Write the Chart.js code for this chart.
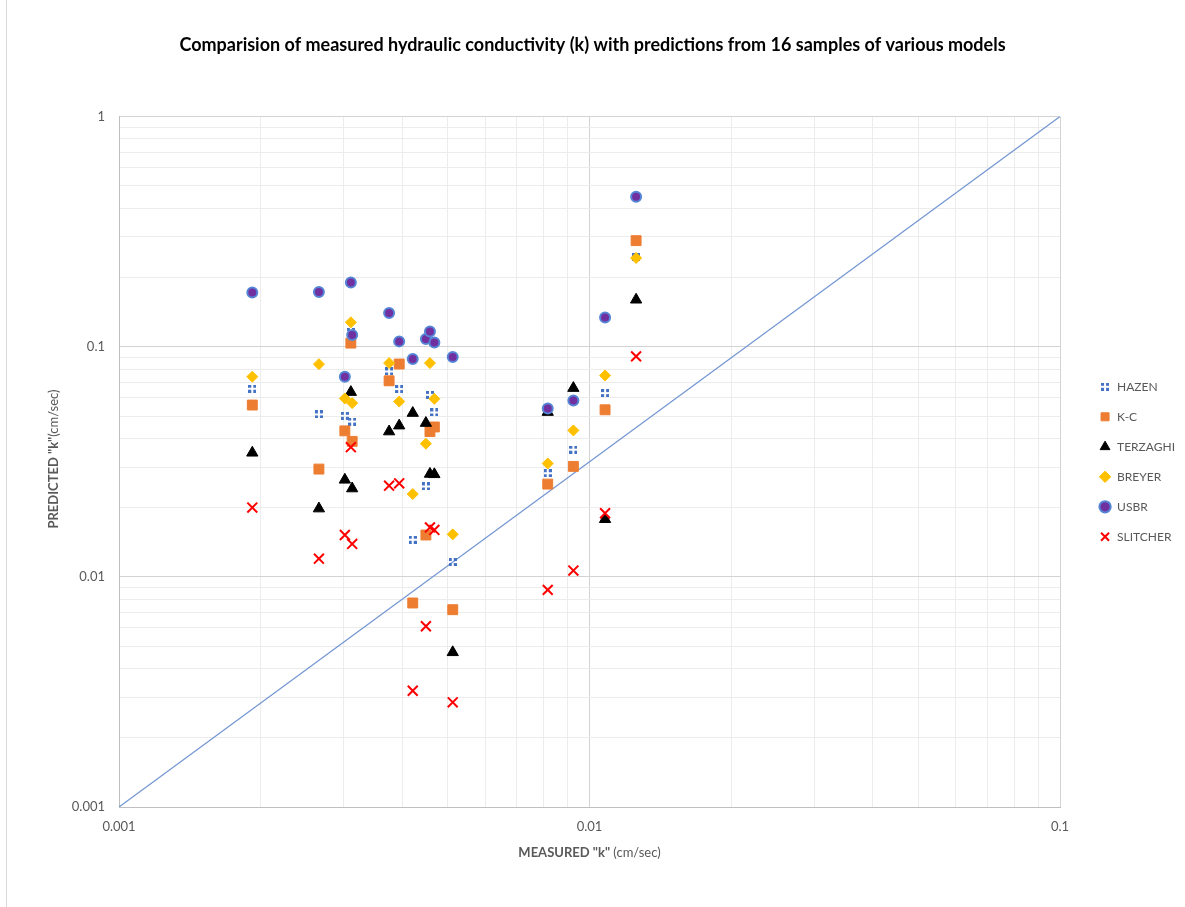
<!DOCTYPE html>
<html>
<head>
<meta charset="utf-8">
<title>Measured vs predicted hydraulic conductivity</title>
<script src="https://cdn.jsdelivr.net/npm/chart.js@4.4.1/dist/chart.umd.min.js"></script>
<style>
  html, body { margin: 0; padding: 0; background: #fff; }
  #wrap { width: 1185px; height: 907px; }
</style>
</head>
<body>
<div id="wrap"><canvas id="chart" width="1185" height="907"></canvas></div>
<script>
// measured k of the 16 samples (cm/sec)
const measuredK = [0.00192, 0.00266, 0.00302, 0.00311, 0.00313, 0.00375, 0.00394, 0.00421,
                   0.00449, 0.00458, 0.00468, 0.00512, 0.00815, 0.00924, 0.01079, 0.01256];

// predicted k for each model, same sample order as measuredK
const hazen    = [0.0657, 0.0508, 0.0501, 0.116, 0.0473, 0.0781, 0.0655, 0.0145, 0.0247, 0.0618, 0.0518, 0.0116, 0.0282, 0.0357, 0.0629, 0.245];
const kc       = [0.0558, 0.0294, 0.0431, 0.1037, 0.0388, 0.0711, 0.0841, 0.0077, 0.0152, 0.0428, 0.0448, 0.0072, 0.0253, 0.0302, 0.0532, 0.289];
const terzaghi = [0.0346, 0.0198, 0.0264, 0.0635, 0.0242, 0.0428, 0.0454, 0.0515, 0.0466, 0.0280, 0.0279, 0.0047, 0.0520, 0.0661, 0.0178, 0.160];
const breyer   = [0.0741, 0.0840, 0.0596, 0.1276, 0.0569, 0.0849, 0.0578, 0.0229, 0.0379, 0.0849, 0.0594, 0.0153, 0.0311, 0.0433, 0.0750, 0.243];
const usbr     = [0.172, 0.173, 0.0741, 0.190, 0.1124, 0.140, 0.1055, 0.0884, 0.108, 0.1166, 0.1044, 0.0902, 0.0539, 0.0584, 0.134, 0.448];
const slitcher = [0.0200, 0.0120, 0.0152, 0.0366, 0.0139, 0.0249, 0.0255, 0.0032, 0.0061, 0.0164, 0.0160, 0.00285, 0.00878, 0.01065, 0.0189, 0.0908];

const seriesNames = ['HAZEN', 'K-C', 'TERZAGHI', 'BREYER', 'USBR', 'SLITCHER'];

// reference line, corner to corner of the plot
const refLineX = [0.001, 0.1];
const refLineY = [0.001, 1];

const xTickLabels = ['0.001', '0.01', '0.1'];
const yTickLabels = ['0.001', '0.01', '0.1', '1'];

const FONT = 'Lato, "Open Sans", sans-serif';
Chart.defaults.font.family = FONT;

// hazen marker: four little blue squares
const hazenMarker = document.createElement('canvas');
hazenMarker.width = 8;
hazenMarker.height = 8;
(() => {
    const c = hazenMarker.getContext('2d');
    c.fillStyle = '#4472C4';
    c.fillRect(0, 0, 3, 3);
    c.fillRect(5, 0, 3, 3);
    c.fillRect(0, 5, 3, 3);
    c.fillRect(5, 5, 3, 3);
})();

function toPoints(values) {
    return values.map((v, i) => ({ x: measuredK[i], y: v }));
}

// gridlines at 1..9 x 10^n
function logTicks(labels) {
    const vals = labels.map(Number);
    const lo = Math.round(Math.log10(Math.min(...vals)));
    const hi = Math.round(Math.log10(Math.max(...vals)));
    const out = [];
    for (let e = lo; e < hi; e++) {
        for (let m = 1; m < 10; m++) out.push({ value: Number((m * Math.pow(10, e)).toPrecision(3)) });
    }
    out.push({ value: Math.pow(10, hi) });
    return out;
}

function isDecade(v) {
    const l = Math.log10(v);
    return Math.abs(l - Math.round(l)) < 1e-6;
}

function labelFor(labels) {
    return value => {
        const hit = labels.find(l => Math.abs(Number(l) - value) < value * 1e-6);
        return hit || '';
    };
}

const gridColor = ctx => (ctx.tick && isDecade(ctx.tick.value)) ? '#d3d3d3' : '#ececec';

const styles = [
    { pointStyle: hazenMarker, pointRadius: 5, backgroundColor: '#4472C4', borderColor: '#4472C4', borderWidth: 0 },
    { pointStyle: 'rect', pointRadius: 7, backgroundColor: '#ED7D31', borderColor: '#ED7D31', borderWidth: 1 },
    { pointStyle: 'triangle', pointRadius: 6.5, backgroundColor: '#000000', borderColor: '#000000', borderWidth: 1 },
    { pointStyle: 'rectRot', pointRadius: 5.5, backgroundColor: '#FFC000', borderColor: '#FFC000', borderWidth: 1 },
    { pointStyle: 'circle', pointRadius: 5, backgroundColor: '#7030A0', borderColor: '#5585d6', borderWidth: 2 },
    { pointStyle: 'crossRot', pointRadius: 7, backgroundColor: '#FF0000', borderColor: '#FF0000', borderWidth: 2 }
];
const seriesValues = [hazen, kc, terzaghi, breyer, usbr, slitcher];

const datasets = seriesNames.map((name, i) => Object.assign({
    label: name,
    data: toPoints(seriesValues[i]),
    pointHoverRadius: styles[i].pointRadius,
    order: seriesNames.length - i
}, styles[i]));

datasets.push({
    type: 'line',
    label: 'reference',
    data: refLineX.map((x, i) => ({ x, y: refLineY[i] })),
    showLine: true,
    borderColor: '#7396d2',
    borderWidth: 1.25,
    pointRadius: 0,
    order: 20
});

function drawMixed(ctx, boldText, plainText, cx, cy, angle) {
    ctx.save();
    ctx.translate(cx, cy);
    ctx.rotate(angle);
    ctx.fillStyle = '#595959';
    ctx.textBaseline = 'middle';
    ctx.textAlign = 'left';
    const bold = 'bold 13px ' + FONT;
    const plain = '13px ' + FONT;
    ctx.font = bold;
    const w1 = ctx.measureText(boldText).width;
    ctx.font = plain;
    const w2 = ctx.measureText(plainText).width;
    const x0 = -(w1 + w2) / 2;
    ctx.font = bold;
    ctx.fillText(boldText, x0, 0);
    ctx.font = plain;
    ctx.fillText(plainText, x0 + w1, 0);
    ctx.restore();
}

const frame = {
    id: 'frame',
    beforeDraw(chart) {
        const ctx = chart.ctx;
        ctx.save();
        ctx.fillStyle = '#ffffff';
        ctx.fillRect(0, 0, chart.width, chart.height);
        ctx.strokeStyle = '#d9d9d9';
        ctx.lineWidth = 1;
        ctx.beginPath();
        ctx.moveTo(6.5, 0);
        ctx.lineTo(6.5, chart.height);
        ctx.stroke();
        ctx.restore();
    }
};

const axisTitles = {
    id: 'axisTitles',
    afterDraw(chart) {
        const { ctx, chartArea } = chart;
        drawMixed(ctx, 'MEASURED "k"', ' (cm/sec)', (chartArea.left + chartArea.right) / 2, 853, 0);
        drawMixed(ctx, 'PREDICTED "k"', '(cm/sec)', 54, 459, -Math.PI / 2);
    }
};

new Chart(document.getElementById('chart'), {
    type: 'scatter',
    data: { datasets },
    options: {
        responsive: false,
        animation: false,
        layout: { padding: { left: 0, right: 0, top: 0, bottom: 70 } },
        plugins: {
            title: {
                display: true,
                text: 'Comparision of measured hydraulic conductivity (k) with predictions from 16 samples of various models',
                color: '#000000',
                font: { size: 18, weight: 'bold' },
                padding: { top: 34, bottom: 61 }
            },
            legend: {
                position: 'right',
                fullSize: false,
                align: 'center',
                labels: {
                    usePointStyle: true,
                    boxWidth: 12,
                    boxHeight: 8,
                    padding: 18,
                    color: '#595959',
                    font: { size: 12 },
                    filter: item => item.datasetIndex < seriesNames.length,
                    sort: (a, b) => a.datasetIndex - b.datasetIndex
                }
            },
            tooltip: { enabled: false }
        },
        scales: {
            x: {
                type: 'logarithmic',
                min: 0.001,
                max: 0.1,
                afterBuildTicks: s => { s.ticks = logTicks(xTickLabels); },
                afterFit: s => { s.height = 30; },
                ticks: {
                    autoSkip: false,
                    maxRotation: 0,
                    padding: 12,
                    color: '#595959',
                    font: { size: 13 },
                    callback: labelFor(xTickLabels)
                },
                grid: { color: gridColor, drawTicks: false },
                border: { color: '#bfbfbf' }
            },
            y: {
                type: 'logarithmic',
                min: 0.001,
                max: 1,
                afterBuildTicks: s => { s.ticks = logTicks(yTickLabels); },
                afterFit: s => { s.width = 119; },
                ticks: {
                    autoSkip: false,
                    padding: 14,
                    color: '#595959',
                    font: { size: 13 },
                    callback: labelFor(yTickLabels)
                },
                grid: { color: gridColor, drawTicks: false },
                border: { color: '#bfbfbf' }
            },
            gap: {
                type: 'linear',
                position: 'right',
                display: true,
                ticks: { display: false },
                grid: { display: false },
                border: { display: false },
                afterFit: s => { s.width = 21; }
            }
        }
    },
    plugins: [frame, axisTitles]
});
</script>
</body>
</html>
